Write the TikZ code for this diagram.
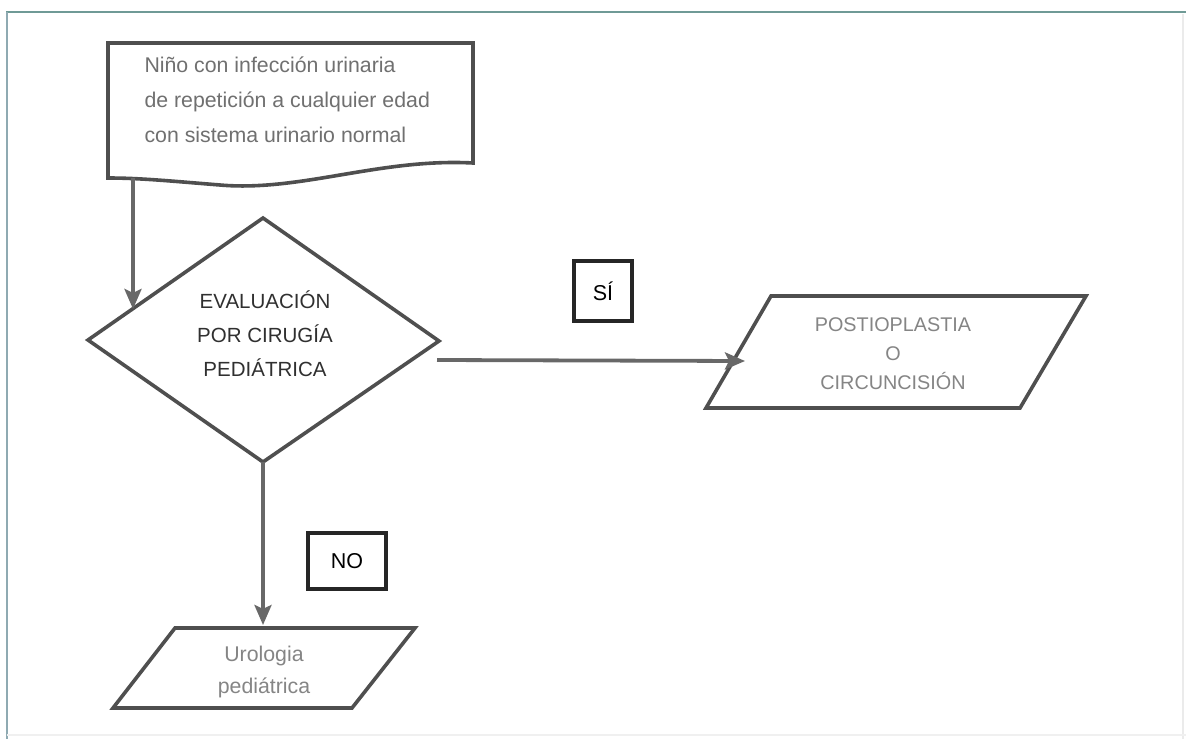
\documentclass[tikz,border=0pt]{standalone}
\usepackage{fontspec}
\setmainfont{Liberation Sans}
\usetikzlibrary{arrows.meta}
\definecolor{shapeline}{HTML}{4F4F4F}
\definecolor{arrowline}{HTML}{686868}
\definecolor{framelineA}{HTML}{6F9A96}
\definecolor{framelineB}{HTML}{8FAAB2}
\definecolor{textlight}{HTML}{858585}
\definecolor{textmid}{HTML}{707070}
\definecolor{textdark}{HTML}{303030}
\tikzset{
  outline/.style={draw=shapeline, line width=3.6pt, line join=miter, fill=white},
  flow/.style={draw=arrowline, line width=3.8pt,
    -{Stealth[length=20pt,width=17pt,inset=4pt]}},
  tagbox/.style={draw=black!85, line width=3.6pt, minimum width=56pt,
    minimum height=56pt, inner sep=0pt, font=\fontsize{21.5}{24}\selectfont},
  bodytext/.style={align=left, font=\fontsize{21.3}{35}\selectfont, text=textmid},
  captext/.style={align=center, font=\fontsize{20.5}{34}\selectfont},
}
\begin{document}
\begin{tikzpicture}[x=1pt,y=-1pt]
\useasboundingbox (0,0) rectangle (1186,739);
% page frame
\draw[framelineA, line width=2pt] (6,12) -- (1186,12);
\draw[framelineB, line width=2pt] (7,12) -- (7,739);
\draw[black!8, line width=1.5pt] (1183,14) -- (1183,739);
\draw[black!6, line width=1.5pt] (7,735) -- (1186,735);

% document shape with wavy bottom
\draw[outline] (108,43) -- (473,43) -- (473,163)
  .. controls (380,158) and (300,192) .. (220,185)
  .. controls (170,181) and (140,178) .. (108,178) -- cycle;
\node[bodytext, anchor=north west] (start) at (141,53)
  {Niño con infección urinaria\\de repetición a cualquier edad\\con sistema urinario normal};
\coordinate (startout) at (133,178);

% decision diamond
\draw[outline] (263,218) -- (439,341) -- (263,462) -- (88,340) -- cycle;
\node[captext, text=textdark] (eval) at (265,334)
  {EVALUACIÓN\\POR CIRUGÍA\\PEDIÁTRICA};
\coordinate (evalin) at (133,309);
\coordinate (evalright) at (437,360);
\coordinate (evalbottom) at (263,462);

% yes branch
\draw[outline] (771,296) -- (1086,296) -- (1020,408) -- (706,408) -- cycle;
\node[captext, text=textlight, font=\fontsize{19.8}{29}\selectfont] (post) at (893,354)
  {POSTIOPLASTIA\\O\\CIRCUNCISIÓN};
\coordinate (postin) at (745,361);

% no branch
\draw[outline] (175,628) -- (415,628) -- (352,708) -- (113,708) -- cycle;
\node[captext, text=textlight, font=\fontsize{21.3}{32}\selectfont] (uro) at (264,672)
  {Urologia\\pediátrica};
\coordinate (uroin) at (263,625);

% connectors
\draw[flow] (startout) -- (evalin);
\draw[flow] (evalright) -- (postin);
\draw[flow] (evalbottom) -- (uroin);

% branch labels
\node[tagbox, minimum width=58pt, minimum height=60pt] (yes) at (603,291) {SÍ};
\node[tagbox, minimum width=78pt, minimum height=56pt] (no) at (347,561) {NO};
\end{tikzpicture}
\end{document}
